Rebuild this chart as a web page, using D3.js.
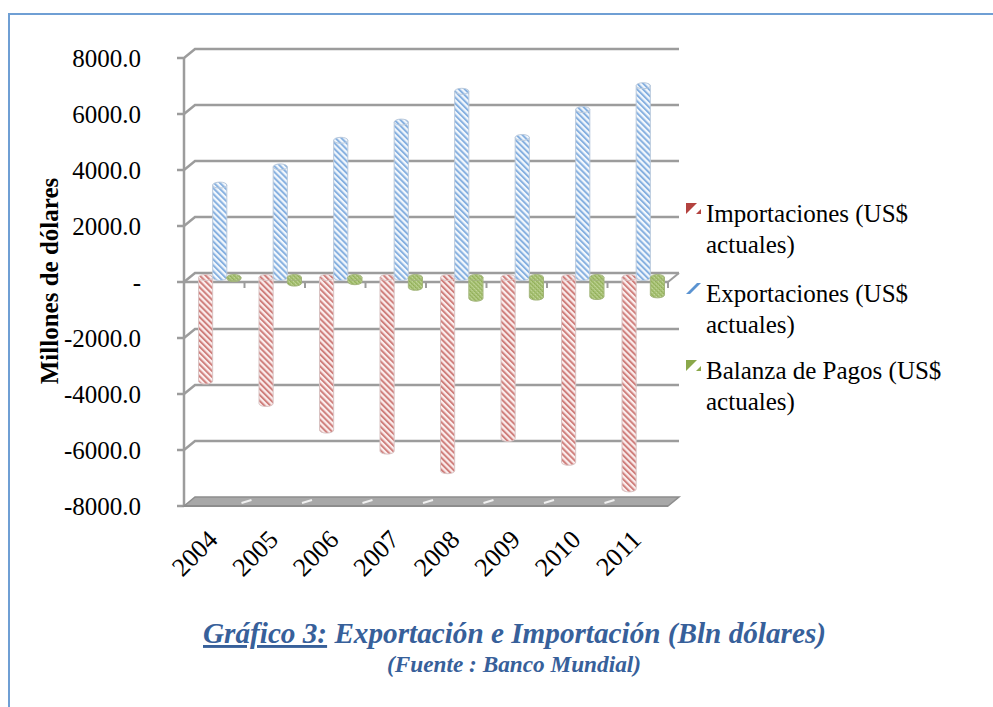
<!DOCTYPE html>
<html>
<head>
<meta charset="utf-8">
<script src="https://cdn.jsdelivr.net/npm/d3@7"></script>
<style>
  html, body { margin: 0; padding: 0; background: #fff; }
  svg { display: block; }
</style>
</head>
<body>
<svg id="chart" width="993" height="707"></svg>
<script>
// ---- data ----
const years = ["2004", "2005", "2006", "2007", "2008", "2009", "2010", "2011"];
const importaciones = [-3700, -4500, -5450, -6200, -6900, -5750, -6600, -7550];
const exportaciones = [3300, 3950, 4900, 5550, 6650, 5000, 6000, 6850];
const balanza = [-40, -200, -150, -350, -740, -700, -680, -620];
const seriesKeys = ["imp", "exp", "bal"];
const seriesLabels = [
  ["Importaciones (US$", "actuales)"],
  ["Exportaciones (US$", "actuales)"],
  ["Balanza de Pagos (US$", "actuales)"]
];
const yTicks = [8000, 6000, 4000, 2000, 0, -2000, -4000, -6000, -8000];
const axisTitle = "Millones de dólares";
const captionLead = "Gráfico 3:";
const captionRest = " Exportación e Importación (Bln dólares)";
const captionSource = "(Fuente : Banco Mundial)";

// ---- layout ----
const svg = d3.select("#chart");
const serif = "'Liberation Serif', 'Times New Roman', serif";
const DX = 11, DY = -9;            // 3D depth offset (front -> back)
const y = d3.scaleLinear().domain([-8000, 8000]).range([506, 58]);
const x = d3.scaleBand().domain(years).range([184, 668]).padding(0);
const xs = d3.scaleBand().domain(seriesKeys).range([0, x.bandwidth()]).paddingInner(0).paddingOuter(0.635);
const gridColor = "#9c9c9c";

// frame
svg.append("path").attr("d", "M9,707 L9,14 L993,14")
  .attr("fill", "none").attr("stroke", "#6f9fd4").attr("stroke-width", 2);

// patterns
const defs = svg.append("defs");
function stripe(id, bg, fg, w, angle) {
  const p = defs.append("pattern").attr("id", id).attr("patternUnits", "userSpaceOnUse")
    .attr("width", 4.2).attr("height", 4.2).attr("patternTransform", `rotate(${angle})`);
  p.append("rect").attr("width", 4.2).attr("height", 4.2).attr("fill", bg);
  p.append("rect").attr("width", w).attr("height", 4.2).attr("fill", fg);
}
stripe("pImp", "#fbeeee", "#cf7f7c", 2.0, -45);
stripe("pExp", "#f3f8fd", "#86b0e0", 2.0, -45);
const pg = defs.append("pattern").attr("id", "pBal").attr("patternUnits", "userSpaceOnUse")
  .attr("width", 3).attr("height", 3).attr("patternTransform", "rotate(-45)");
pg.append("rect").attr("width", 3).attr("height", 3).attr("fill", "#c2d69a");
pg.append("rect").attr("width", 1.5).attr("height", 3).attr("fill", "#8fad55");
pg.append("rect").attr("width", 3).attr("height", 0.8).attr("fill", "#a3be6e");

const x0 = x.range()[0], x1 = x.range()[1];

// gridlines (back wall) with left side diagonals
yTicks.forEach(v => {
  if (v === -8000) return;
  const yy = y(v);
  svg.append("path")
    .attr("d", `M${x0 - 7},${yy} L${x0},${yy} L${x0 + DX},${yy + DY} L${x1 + DX},${yy + DY}`)
    .attr("fill", "none").attr("stroke", gridColor).attr("stroke-width", 2.5);
});
// left vertical axis
svg.append("line").attr("x1", x0).attr("x2", x0).attr("y1", y(8000) - 1).attr("y2", y(-8000) + 1)
  .attr("stroke", gridColor).attr("stroke-width", 2.5);
// -8000 tick
svg.append("line").attr("x1", x0 - 7).attr("x2", x0).attr("y1", y(-8000)).attr("y2", y(-8000))
  .attr("stroke", gridColor).attr("stroke-width", 2.5);

// floor slab at -8000
const fy = y(-8000);
svg.append("path")
  .attr("d", `M${x0},${fy} L${x0 + DX},${fy + DY} L${x1 + DX},${fy + DY} L${x1},${fy} Z`)
  .attr("fill", "#a8a8a8").attr("stroke", "#8d8d8d").attr("stroke-width", 1.5);
svg.append("path")
  .attr("d", `M${x0},${fy} L${x1},${fy}`)
  .attr("stroke", "#8d8d8d").attr("stroke-width", 2);
years.forEach((yr, i) => {
  if (i === 0) return;
  const xx = x(yr);
  svg.append("line").attr("x1", xx - 3).attr("x2", xx + 7).attr("y1", fy - 3).attr("y2", fy - 6)
    .attr("stroke", "#f0f0f0").attr("stroke-width", 2);
});

// zero plane lines
const zy = y(0);
svg.append("line").attr("x1", x0).attr("x2", x1).attr("y1", zy).attr("y2", zy)
  .attr("stroke", gridColor).attr("stroke-width", 2.5);
svg.append("line").attr("x1", x1).attr("x2", x1 + DX).attr("y1", zy).attr("y2", zy + DY)
  .attr("stroke", gridColor).attr("stroke-width", 2);
years.forEach((yr, i) => {
  const xx = x(yr) + x.bandwidth();
  svg.append("line").attr("x1", xx).attr("x2", xx).attr("y1", zy).attr("y2", zy + 6)
    .attr("stroke", gridColor).attr("stroke-width", 2);
});

// cylinders
const seriesData = { imp: importaciones, exp: exportaciones, bal: balanza };
const patId = { imp: "pImp", exp: "pExp", bal: "pBal" };
const edge = { imp: "#d9c3c3", exp: "#b9c9dc", bal: "#a3b57c" };
const RY = 3;
seriesKeys.forEach(k => {
  years.forEach((yr, i) => {
    const v = seriesData[k][i];
    const w = xs.bandwidth();
    const bx = x(yr) + xs(k) + DX / 2;
    const ya = y(0) + DY / 2, yb = y(v) + DY / 2;
    const top = Math.min(ya, yb), bot = Math.max(ya, yb);
    const g = svg.append("g");
    g.append("path")
      .attr("d", `M${bx},${top} L${bx},${bot} A${w / 2},${RY} 0 0 0 ${bx + w},${bot} L${bx + w},${top} Z`)
      .attr("fill", `url(#${patId[k]})`).attr("stroke", edge[k]).attr("stroke-width", 1);
    g.append("ellipse").attr("cx", bx + w / 2).attr("cy", top).attr("rx", w / 2).attr("ry", RY)
      .attr("fill", `url(#${patId[k]})`).attr("stroke", edge[k]).attr("stroke-width", 1);
  });
});

// y tick labels
svg.append("g").selectAll("text").data(yTicks).join("text")
  .attr("x", 141).attr("y", d => y(d) + 9)
  .attr("text-anchor", "end")
  .style("font-family", serif).style("font-size", "25px").attr("fill", "#000")
  .text(d => d === 0 ? "-" : d3.format(".1f")(d).replace("−", "-"));

// axis title
svg.append("text")
  .attr("transform", `translate(58,281) rotate(-90)`)
  .attr("text-anchor", "middle")
  .style("font-family", serif).style("font-size", "25px").style("font-weight", "bold")
  .text(axisTitle);

// x labels
svg.append("g").selectAll("text").data(years).join("text")
  .attr("transform", d => `translate(${x(d) + x.bandwidth() / 2 + 5},541) rotate(-45)`)
  .attr("text-anchor", "end")
  .style("font-family", serif).style("font-size", "26px")
  .text(d => d);

// legend
const legY = [213, 293, 370];
const legColor = { imp: "#b3423f", exp: "#5b93d1", bal: "#8aa84a" };
seriesKeys.forEach((k, i) => {
  const ly = legY[i];
  const lg = svg.append("g");
  if (k === "exp") {
    lg.append("path").attr("d", `M686,${ly + 1} L697,${ly - 10} L701,${ly - 10} L690,${ly + 1} Z`).attr("fill", legColor[k]);
  } else {
    lg.append("path").attr("d", `M686,${ly - 10} L697,${ly - 10} L686,${ly + 1} Z`).attr("fill", legColor[k]);
    lg.append("path").attr("d", `M701,${ly - 4} L701,${ly + 1} L696,${ly + 1} Z`).attr("fill", legColor[k]);
  }
  const t = svg.append("text").attr("x", 706).attr("y", ly + 9)
    .style("font-family", serif).style("font-size", "25px").attr("fill", "#000");
  t.append("tspan").attr("x", 706).attr("dy", 0).text(seriesLabels[i][0]);
  t.append("tspan").attr("x", 706).attr("dy", 31).text(seriesLabels[i][1]);
});

// caption
const capColor = "#37609a";
const cap = svg.append("text").attr("x", 203).attr("y", 643)
  .attr("textLength", 623).attr("lengthAdjust", "spacingAndGlyphs")
  .style("font-family", serif).style("font-size", "29px").style("font-weight", "bold")
  .style("font-style", "italic").attr("fill", capColor);
cap.append("tspan").style("text-decoration", "underline").text(captionLead);
cap.append("tspan").text(captionRest);
svg.append("text").attr("x", 387).attr("y", 672)
  .attr("textLength", 254).attr("lengthAdjust", "spacingAndGlyphs")
  .style("font-family", serif).style("font-size", "23px").style("font-weight", "bold")
  .style("font-style", "italic").attr("fill", capColor)
  .text(captionSource);
</script>
</body>
</html>
